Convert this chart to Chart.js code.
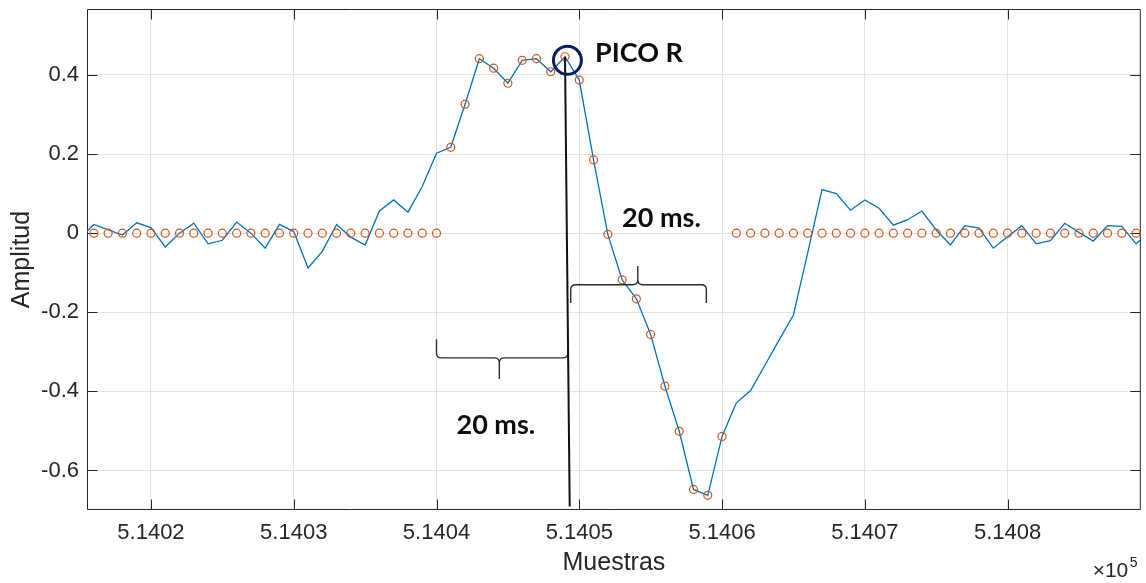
<!DOCTYPE html>
<html lang="es">
<head>
<meta charset="utf-8">
<title>Pico R</title>
<script src="https://cdn.jsdelivr.net/npm/chart.js@4.4.1/dist/chart.umd.min.js"></script>
<style>
html,body{margin:0;padding:0;background:#fff;}
canvas{display:block;}
</style>
</head>
<body>
<canvas id="grafico" width="1146" height="583"></canvas>
<script>
// Señal ECG alrededor del complejo QRS, una muestra por índice
const primeraMuestra = 514015;
const amplitud = [
  -0.014, 0.022, 0.008, -0.005, 0.026, 0.014, -0.035, 0.000, 0.025, -0.027,
  -0.018, 0.028, 0.000, -0.038, 0.022, 0.004, -0.088, -0.046, 0.022, -0.010,
  -0.030, 0.056, 0.084, 0.053, 0.118, 0.202, 0.217, 0.326, 0.441, 0.417,
  0.379, 0.437, 0.441, 0.408, 0.446, 0.387, 0.185, -0.003, -0.118, -0.166,
  -0.256, -0.387, -0.501, -0.648, -0.663, -0.514, -0.429, -0.398, -0.334, -0.270,
  -0.207, -0.050, 0.110, 0.100, 0.058, 0.084, 0.063, 0.020, 0.034, 0.056,
  0.008, -0.030, 0.019, 0.013, -0.038, -0.009, 0.019, -0.027, -0.019, 0.025,
  0.002, -0.020, 0.019, 0.017, -0.027, 0.005
];

// Ventana detectada: cero fuera del segmento QRS, la señal dentro
const primerMarcador = 514016;
const marcadores = [
  0, 0, 0, 0, 0, 0, 0, 0, 0, 0,
  0, 0, 0, 0, 0, 0, 0, 0, 0, 0,
  0, 0, 0, 0, 0,
  0.217, 0.326, 0.441, 0.417, 0.379, 0.437, 0.441, 0.408, 0.446, 0.387,
  0.185, -0.003, -0.118, -0.166, -0.256, -0.387, -0.501, -0.648, -0.663, -0.514,
  0, 0, 0, 0, 0, 0, 0, 0, 0, 0,
  0, 0, 0, 0, 0, 0, 0, 0, 0, 0,
  0, 0, 0, 0, 0, 0, 0, 0, 0
];

// Marcas de los ejes
const ticksX = [514020, 514030, 514040, 514050, 514060, 514070, 514080];
const ticksY = [-0.6, -0.4, -0.2, 0, 0.2, 0.4];

const colorEje = '#262626';
const fuenteEjes = '"Liberation Sans", Arial, Helvetica, sans-serif';

// Anotaciones en coordenadas de datos
const anotaciones = {
  circuloPico: { x: 514049.17, y: 0.437, radio: 14 },
  lineaPico: { x0: 514049, y0: 0.446, x1: 514049.33, y1: -0.691 },
  llaves: [
    { desde: 514040.0, hasta: 514049.2, punta: 514044.4, base: -0.3155, extremos: -0.268, pico: -0.3685 },
    { desde: 514049.4, hasta: 514058.9, punta: 514054.1, base: -0.1305, extremos: -0.1767, pico: -0.0828 }
  ],
  textos: [
    { texto: 'PICO R', x: 514051.1, y: 0.432 },
    { texto: '20 ms.', x: 514053.0, y: 0.015 },
    { texto: '20 ms.', x: 514041.4, y: -0.507 }
  ]
};

const puntosSenal = amplitud.map((v, i) => ({ x: primeraMuestra + i, y: v }));
const puntosMarcador = marcadores.map((v, i) => ({ x: primerMarcador + i, y: v }));

// Caja de ejes con marcas hacia dentro en los cuatro lados
const marco = {
  id: 'marco',
  beforeDatasetsDraw(chart) {
    const { ctx, chartArea: a, scales: { x, y } } = chart;
    const L = a.left + 0.5, R = a.right - 0.5, T = a.top + 0.5, B = a.bottom - 0.5;
    const largo = 10;
    ctx.save();
    ctx.strokeStyle = colorEje;
    ctx.lineWidth = 1;
    ctx.beginPath();
    ctx.rect(L, T, R - L, B - T);
    x.ticks.forEach(t => {
      const px = Math.round(x.getPixelForValue(t.value)) + 0.5;
      ctx.moveTo(px, B); ctx.lineTo(px, B - largo);
      ctx.moveTo(px, T); ctx.lineTo(px, T + largo);
    });
    y.ticks.forEach(t => {
      const py = Math.round(y.getPixelForValue(t.value)) + 0.5;
      ctx.moveTo(L, py); ctx.lineTo(L + largo, py);
      ctx.moveTo(R, py); ctx.lineTo(R - largo, py);
    });
    ctx.stroke();
    ctx.restore();
  }
};

function llave(ctx, x0, x1, xm, yb, ye, yt) {
  const r = 5;
  const sd = Math.sign(yt - yb);
  const se = Math.sign(ye - yb);
  ctx.beginPath();
  ctx.moveTo(x0, ye);
  ctx.lineTo(x0, yb + se * r);
  ctx.quadraticCurveTo(x0, yb, x0 + r, yb);
  ctx.lineTo(xm - r, yb);
  ctx.quadraticCurveTo(xm, yb, xm, yb + sd * r);
  ctx.lineTo(xm, yt);
  ctx.moveTo(xm, yb + sd * r);
  ctx.quadraticCurveTo(xm, yb, xm + r, yb);
  ctx.lineTo(x1 - r, yb);
  ctx.quadraticCurveTo(x1, yb, x1, yb + se * r);
  ctx.lineTo(x1, ye);
  ctx.stroke();
}

const notas = {
  id: 'notas',
  afterDatasetsDraw(chart) {
    const { ctx, scales: { x, y } } = chart;
    const px = v => x.getPixelForValue(v);
    const py = v => y.getPixelForValue(v);
    ctx.save();

    // Llaves de 20 ms
    ctx.strokeStyle = '#2b2b2b';
    ctx.lineWidth = 1.4;
    anotaciones.llaves.forEach(b => {
      llave(ctx, px(b.desde), px(b.hasta), px(b.punta), py(b.base), py(b.extremos), py(b.pico));
    });

    // Línea vertical desde el pico R
    const lp = anotaciones.lineaPico;
    ctx.strokeStyle = '#111111';
    ctx.lineWidth = 2;
    ctx.beginPath();
    ctx.moveTo(px(lp.x0), py(lp.y0));
    ctx.lineTo(px(lp.x1), py(lp.y1));
    ctx.stroke();

    // Círculo sobre el pico R
    const c = anotaciones.circuloPico;
    ctx.strokeStyle = '#0b1f5c';
    ctx.lineWidth = 3;
    ctx.beginPath();
    ctx.arc(px(c.x), py(c.y), c.radio, 0, Math.PI * 2);
    ctx.stroke();

    // Rótulos
    ctx.fillStyle = '#0d0d0d';
    ctx.font = 'bold 27px Lato, "Open Sans", sans-serif';
    ctx.textAlign = 'left';
    ctx.textBaseline = 'alphabetic';
    anotaciones.textos.forEach(t => ctx.fillText(t.texto, px(t.x), py(t.y)));
    ctx.restore();
  },
  afterDraw(chart) {
    // Factor de escala del eje x
    const { ctx, chartArea: a } = chart;
    ctx.save();
    ctx.fillStyle = colorEje;
    ctx.textBaseline = 'alphabetic';
    ctx.textAlign = 'right';
    ctx.font = '21px ' + fuenteEjes;
    ctx.fillText('\u00d710', a.right - 12.5, 577);
    ctx.textAlign = 'left';
    ctx.font = '14px ' + fuenteEjes;
    ctx.fillText('5', a.right - 11, 567);
    ctx.restore();
  }
};

new Chart(document.getElementById('grafico'), {
  type: 'line',
  data: {
    datasets: [
      {
        label: 'Ventana QRS',
        data: puntosMarcador,
        showLine: false,
        borderColor: '#D95319',
        backgroundColor: 'rgba(0,0,0,0)',
        pointRadius: 4,
        pointBorderWidth: 1.2,
        pointBorderColor: '#D95319',
        pointBackgroundColor: 'rgba(0,0,0,0)'
      },
      {
        label: 'Señal',
        data: puntosSenal,
        borderColor: '#0072BD',
        borderWidth: 1.3,
        pointRadius: 0,
        tension: 0,
        fill: false
      }
    ]
  },
  options: {
    responsive: false,
    devicePixelRatio: 1,
    animation: false,
    events: [],
    layout: { padding: { left: 0, right: 5, top: 9, bottom: 0 } },
    plugins: { legend: { display: false }, tooltip: { enabled: false } },
    scales: {
      x: {
        type: 'linear',
        position: 'bottom',
        min: 514015.52,
        max: 514089.33,
        afterBuildTicks: s => { s.ticks = ticksX.map(v => ({ value: v })); },
        afterFit: s => { s.height = 73; s.paddingLeft = 0; s.paddingRight = 0; },
        grid: { color: '#e3e3e3', lineWidth: 1, drawTicks: false },
        border: { display: false },
        ticks: {
          autoSkip: false,
          maxRotation: 0,
          padding: 10,
          color: colorEje,
          font: { family: fuenteEjes, size: 22 },
          callback: v => (v / 1e5).toFixed(4)
        },
        title: {
          display: true,
          text: 'Muestras',
          color: colorEje,
          font: { family: fuenteEjes, size: 25 },
          padding: { top: 0, bottom: 5 }
        }
      },
      y: {
        type: 'linear',
        min: -0.7,
        max: 0.5667,
        afterBuildTicks: s => { s.ticks = ticksY.map(v => ({ value: v })); },
        afterFit: s => { s.width = 87; s.paddingTop = 0; s.paddingBottom = 0; },
        grid: { color: '#e3e3e3', lineWidth: 1, drawTicks: false },
        border: { display: false },
        ticks: {
          padding: 8,
          color: colorEje,
          font: { family: fuenteEjes, size: 22 },
          callback: v => (Math.abs(v) < 1e-9 ? '0' : v.toFixed(1))
        },
        title: {
          display: true,
          text: 'Amplitud',
          color: colorEje,
          font: { family: fuenteEjes, size: 25 },
          padding: { top: 7, bottom: 0 }
        }
      }
    }
  },
  plugins: [marco, notas]
});
</script>
</body>
</html>
